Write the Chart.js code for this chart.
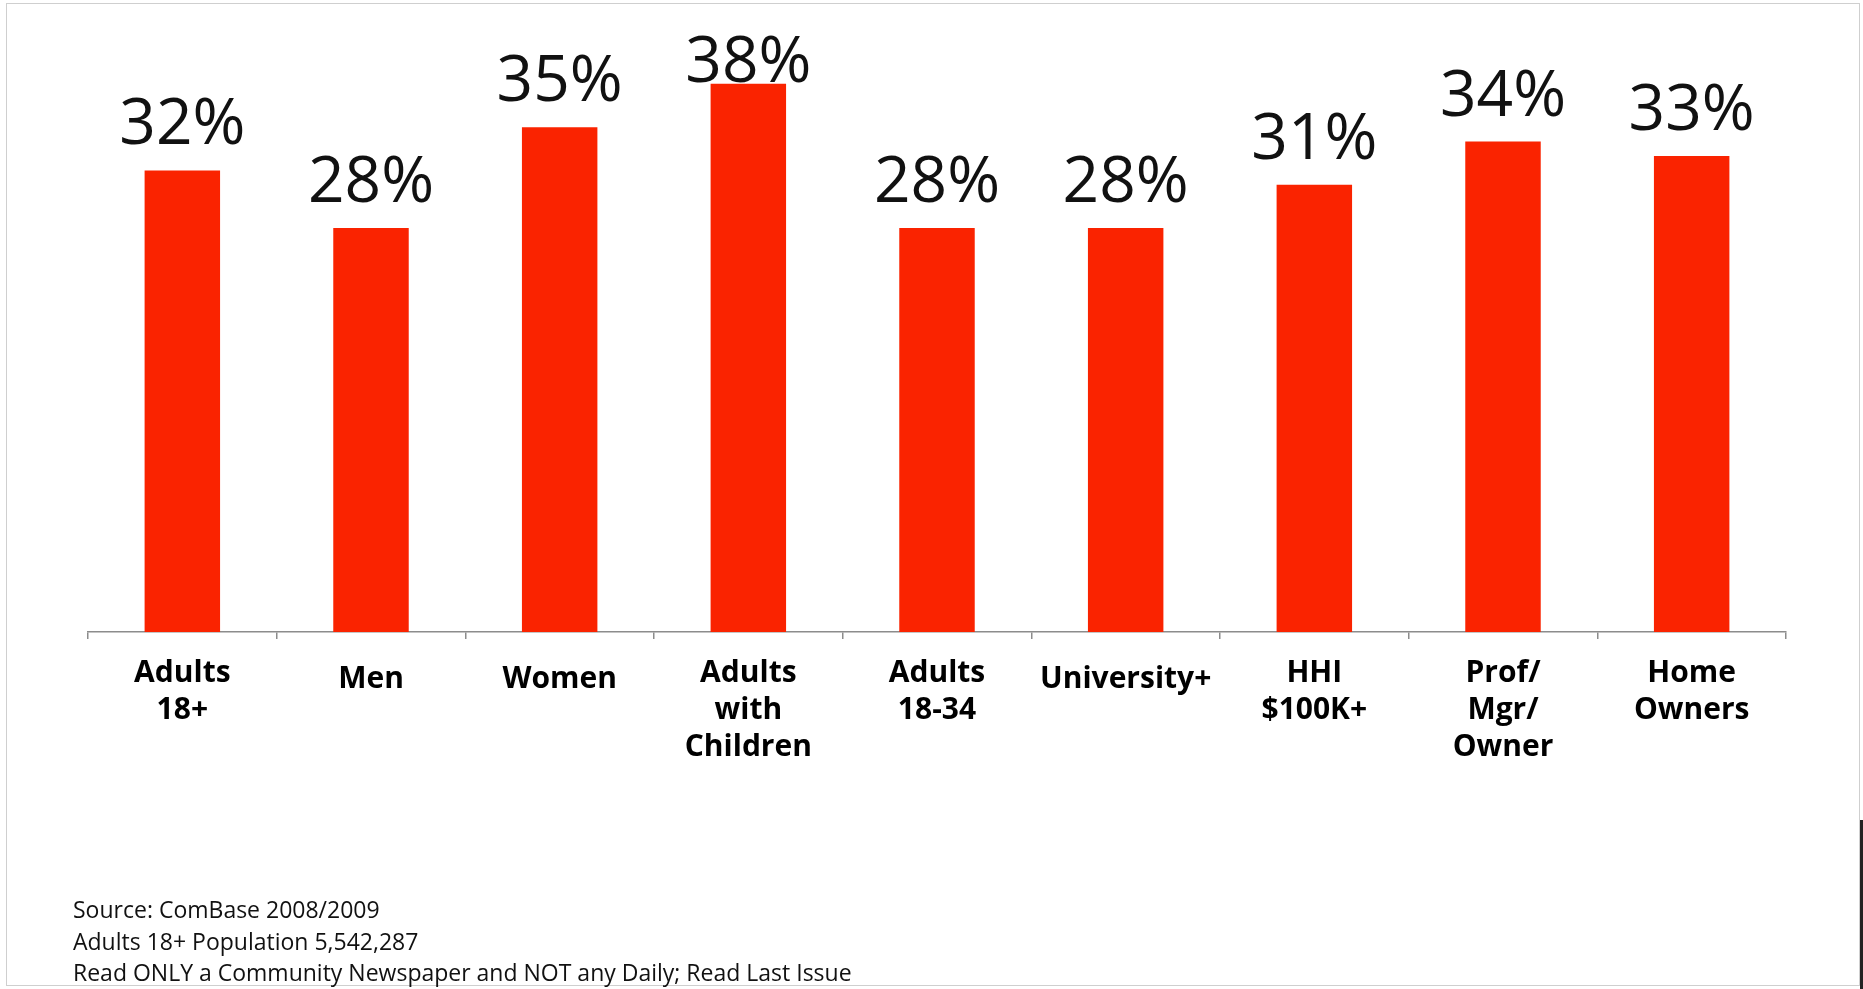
<!DOCTYPE html>
<html>
<head>
<meta charset="utf-8">
<script src="https://cdn.jsdelivr.net/npm/chart.js@4"></script>
<style>
  html, body { margin:0; padding:0; background:#fff; }
  #wrap { position:relative; width:1863px; height:989px; overflow:hidden; }
  #frame { position:absolute; left:6px; top:3px; width:1854px; height:983px; border:1px solid #cfcfcf; box-sizing:border-box; }
  #edge { position:absolute; left:1860px; top:820px; width:3px; height:169px; background:#222; }
  #chart { position:absolute; left:0; top:0; }
  #notes { position:absolute; left:73px; top:894px; font-family:"Open Sans", sans-serif; font-size:23px; line-height:31.5px; color:#111; }
</style>
</head>
<body>
<div id="wrap">
  <div id="frame"></div>
  <canvas id="chart" width="1863" height="989"></canvas>
  <div id="edge"></div>
  <div id="notes">
    <div>Source: ComBase 2008/2009</div>
    <div>Adults 18+ Population 5,542,287</div>
    <div>Read ONLY a Community Newspaper and NOT any Daily; Read Last Issue</div>
  </div>
</div>
<script>
const categories = [
  ['Adults', '18+'],
  'Men',
  'Women',
  ['Adults', 'with', 'Children'],
  ['Adults', '18-34'],
  'University+',
  ['HHI', '$100K+'],
  ['Prof/', 'Mgr/', 'Owner'],
  ['Home', 'Owners']
];
const readers = [32, 28, 35, 38, 28, 28, 31, 34, 33];
const yMin = 0;
const yMax = 40;

// étiquettes de valeur au-dessus des barres
const valueLabels = {
  id: 'valueLabels',
  afterDatasetsDraw(chart) {
    const { ctx, chartArea } = chart;
    const meta = chart.getDatasetMeta(0);
    ctx.save();
    ctx.font = '64px "Open Sans", sans-serif';
    ctx.fillStyle = '#111';
    ctx.textAlign = 'center';
    ctx.textBaseline = 'alphabetic';
    meta.data.forEach((bar, i) => {
      const y = Math.max(bar.y - 26, chartArea.top + 27);
      ctx.fillText(readers[i] + '%', bar.x, y);
    });
    ctx.restore();
  }
};

const ctx = document.getElementById('chart').getContext('2d');
new Chart(ctx, {
  type: 'bar',
  data: {
    labels: categories,
    datasets: [{
      data: readers,
      backgroundColor: '#fa2300',
      barPercentage: 0.8,
      categoryPercentage: 0.5
    }]
  },
  options: {
    responsive: false,
    animation: false,
    layout: { padding: { left: 88, right: 77, top: 55, bottom: 207 } },
    plugins: { legend: { display: false }, tooltip: { enabled: false } },
    scales: {
      x: {
        grid: { offset: true, drawOnChartArea: false, drawTicks: true, tickLength: 7, color: '#8c8c8c', lineWidth: 1.5 },
        border: { color: '#8c8c8c', width: 1.5 },
        ticks: {
          color: '#000',
          padding: 16,
          maxRotation: 0,
          autoSkip: false,
          font: c => ({
            family: '"Open Sans", sans-serif',
            size: 30,
            weight: 'bold',
            lineHeight: Array.isArray(categories[c.index]) ? '37px' : '49px'
          })
        }
      },
      y: { display: false, min: yMin, max: yMax }
    }
  },
  plugins: [valueLabels]
});
</script>
</body>
</html>
